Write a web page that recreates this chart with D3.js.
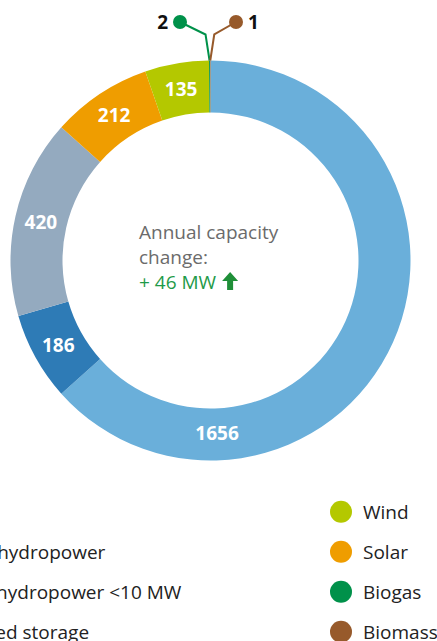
<!DOCTYPE html>
<html>
<head>
<meta charset="utf-8">
<script src="https://cdn.jsdelivr.net/npm/d3@7"></script>
<style>
  body { margin: 0; background: #fff; }
  svg { display: block; font-family: "Open Sans", "Noto Sans", sans-serif; }
</style>
</head>
<body>
<script>
// capacity per source, MW (clockwise from 12 o'clock)
var sources = ["Large hydropower", "Small hydropower <10 MW", "Pumped storage", "Solar", "Wind", "Biogas", "Biomass"];
var capacity = [1656, 186, 420, 212, 135, 2, 1];
var colours = ["#6aafda", "#2e7bb6", "#94aabf", "#ef9d00", "#b4c800", "#00914a", "#975a2b"];
// legend columns
var legendLeft = ["Large hydropower", "Small hydropower <10 MW", "Pumped storage"];
var legendRight = ["Wind", "Solar", "Biogas", "Biomass"];
var centreLines = ["Annual capacity", "change:"];
var changeText = "+ 46 MW";

var width = 437, height = 641;
var cx = 210.5, cy = 260.5;
var outer = 200, inner = 148;
var fontSize = "19px";

var svg = d3.select("body").append("svg")
    .attr("width", width)
    .attr("height", height);

var color = d3.scaleOrdinal().domain(sources).range(colours);

var pie = d3.pie().sort(null).value(function(d) { return d.value; });
var data = sources.map(function(s, i) { return { name: s, value: capacity[i] }; });
var arcs = pie(data);

var arc = d3.arc().innerRadius(inner).outerRadius(outer);
var labelArc = d3.arc().innerRadius(174).outerRadius(174);

var g = svg.append("g").attr("transform", "translate(" + cx + "," + cy + ")");

g.selectAll("path.slice")
    .data(arcs)
    .enter()
    .append("path")
    .attr("class", "slice")
    .attr("d", arc)
    .style("fill", function(d) { return color(d.data.name); });

// labels inside the ring (big enough slices only)
g.selectAll("text.val")
    .data(arcs.filter(function(d) { return d.value > 50; }))
    .enter()
    .append("text")
    .attr("class", "val")
    .attr("transform", function(d) {
        var p;
        if (d.index === 0) {
            // biggest slice label sits near the bottom
            var a = Math.PI * 0.988;
            p = [173 * Math.sin(a), -173 * Math.cos(a)];
        } else {
            p = labelArc.centroid(d);
        }
        return "translate(" + p[0] + "," + p[1] + ")";
    })
    .attr("text-anchor", "middle")
    .attr("dy", "0.36em")
    .style("fill", "#fff")
    .style("font-weight", "bold")
    .style("font-size", fontSize)
    .text(function(d) { return d.value; });

// leader lines for the tiny slices
var small = arcs.filter(function(d) { return d.value <= 50; });
small.forEach(function(d) {
    var a = (d.startAngle + d.endAngle) / 2;
    var x0 = outer * Math.sin(a), y0 = -outer * Math.cos(a);
    var side = d.data.name === "Biogas" ? -1 : 1;
    var ex = x0 + side * 4, ey = -226;
    var dotX = side < 0 ? -30.5 : 25.5, dotY = -238.5;
    g.append("path")
        .attr("d", "M" + x0 + "," + y0 + "L" + ex + "," + ey + "L" + dotX + "," + dotY)
        .style("fill", "none")
        .style("stroke", color(d.data.name))
        .style("stroke-width", 2);
    g.append("circle")
        .attr("cx", dotX)
        .attr("cy", dotY)
        .attr("r", 7)
        .style("fill", color(d.data.name));
    g.append("text")
        .attr("x", dotX + side * 12)
        .attr("y", dotY)
        .attr("dy", "0.36em")
        .attr("text-anchor", side < 0 ? "end" : "start")
        .style("font-weight", "bold")
        .style("font-size", fontSize)
        .style("fill", "#111")
        .text(d.value);
});

// centre text
var centre = svg.append("g");
centre.selectAll("text.c")
    .data(centreLines)
    .enter()
    .append("text")
    .attr("class", "c")
    .attr("x", 139)
    .attr("y", function(d, i) { return 239 + i * 25; })
    .style("font-size", fontSize)
    .style("fill", "#6b6b6b")
    .text(function(d) { return d; });

var ct = centre.append("text")
    .attr("x", 139)
    .attr("y", 289)
    .style("font-size", fontSize)
    .style("fill", "#1e9a48")
    .text(changeText);

var tw = ct.node().getComputedTextLength();
var ax = 139 + tw + 14;
centre.append("path")
    .attr("d", "M" + ax + ",272 L" + (ax + 8) + ",281 L" + (ax + 3) + ",281 L" + (ax + 3) + ",290 L" + (ax - 3) + ",290 L" + (ax - 3) + ",281 L" + (ax - 8) + ",281 Z")
    .style("fill", "#1f8f38");

// legend
var legR = svg.append("g").selectAll("g")
    .data(legendRight)
    .enter()
    .append("g")
    .attr("transform", function(d, i) { return "translate(341," + (511.7 + i * 40) + ")"; });
legR.append("circle").attr("r", 11).style("fill", function(d) { return color(d); });
legR.append("text")
    .attr("x", 22)
    .attr("dy", "0.36em")
    .style("font-size", fontSize)
    .style("fill", "#222")
    .text(function(d) { return d; });

var legL = svg.append("g").selectAll("g")
    .data(legendLeft)
    .enter()
    .append("g")
    .attr("transform", function(d, i) { return "translate(-79," + (551.7 + i * 40) + ")"; });
legL.append("circle").attr("r", 11).style("fill", function(d) { return color(d); });
legL.append("text")
    .attr("x", 22)
    .attr("dy", "0.36em")
    .style("font-size", fontSize)
    .style("fill", "#222")
    .text(function(d) { return d; });
</script>
</body>
</html>
